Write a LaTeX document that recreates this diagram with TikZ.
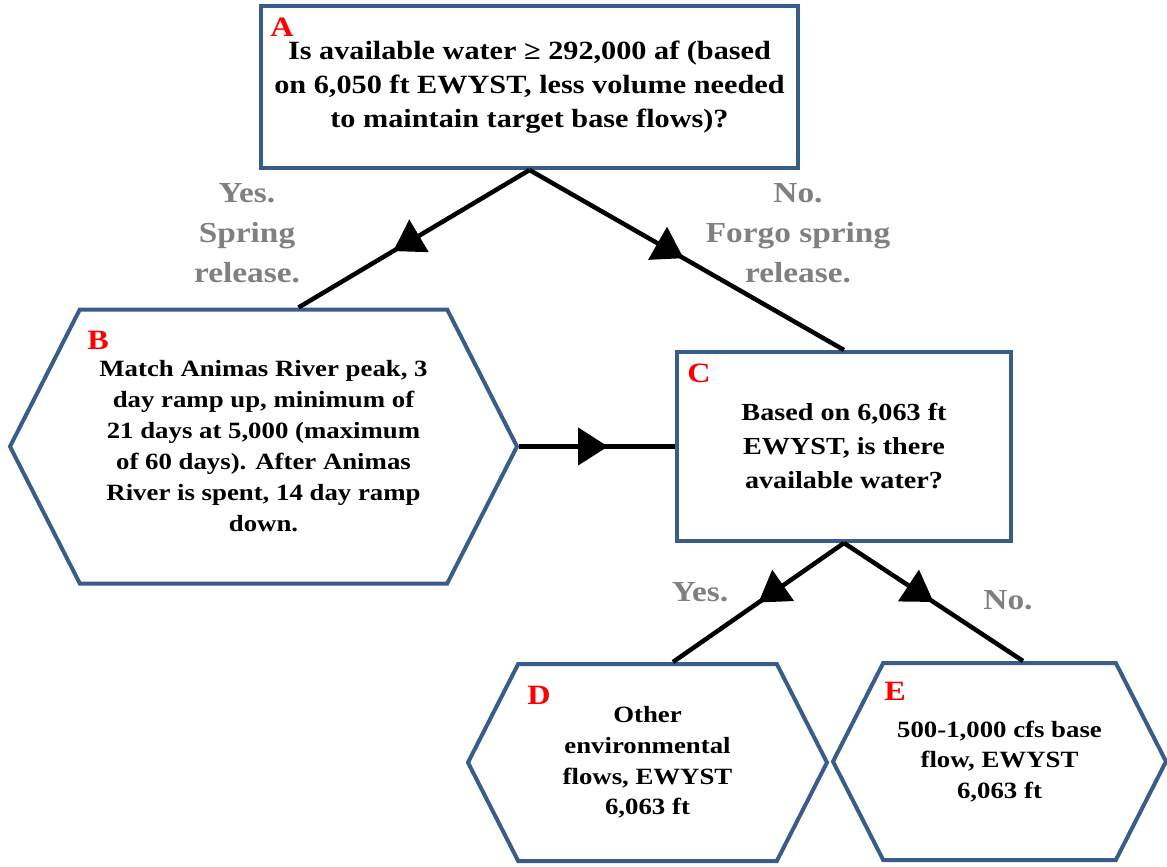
\documentclass[tikz,border=0pt]{standalone}
\usepackage{fontspec}
\setmainfont{Liberation Serif}[FakeStretch=1.15]
\usetikzlibrary{positioning,shapes.symbols,arrows.meta,decorations.markings}
\definecolor{boxBlue}{RGB}{56,93,138}
\definecolor{noteGray}{gray}{0.5}
\definecolor{tagRed}{RGB}{255,0,0}

\begin{document}
\begin{tikzpicture}[
	x=1pt, y=-1pt,
	% -{Triangle[length=30pt]},
	decision/.style={draw=boxBlue, line width=4pt, fill=white, align=center,
		inner sep=0pt, rectangle},
	outcome/.style={decision, signal, signal to=west and east,
		signal pointer angle=126},
	tag/.style={text=tagRed, font=\bfseries\fontsize{28}{30}\selectfont},
	answer/.style={text=noteGray, align=center,
		font=\bfseries\fontsize{29}{40}\selectfont},
	flowline/.style={draw, line width=4.5pt, postaction={decorate},
		decoration={markings,
			mark=at position #1 with {\arrow{Triangle[length=30pt,width=37pt]}}}},
	]
	\useasboundingbox (0,0) rectangle (1167,867);
	\node [decision, minimum width=537pt, minimum height=162pt,
		font=\bfseries\fontsize{26.3}{34}\selectfont] (A) at (529.5,87)
		{Is available water ≥ 292,000 af (based\\on 6,050 ft EWYST, less volume needed\\to maintain target base flows)?};
	\node [outcome, minimum width=507pt, minimum height=274pt,
		font=\bfseries\fontsize{23.3}{31}\selectfont] (B) at (263.5,446.5)
		{Match Animas River peak, 3\\day ramp up, minimum of\\21 days at 5,000 (maximum\\of 60 days). After Animas\\River is spent, 14 day ramp\\down.};
	\node [decision, minimum width=334pt, minimum height=189pt,
		font=\bfseries\fontsize{24.5}{34}\selectfont] (C) at (844,446.5)
		{Based on 6,063 ft\\EWYST, is there\\available water?};
	\node [outcome, minimum width=359pt, minimum height=197pt,
		font=\bfseries\fontsize{23.3}{30.7}\selectfont] (D) at (647.5,762.5)
		{Other\\environmental\\flows, EWYST\\6,063 ft};
	\node [outcome, minimum width=333pt, minimum height=197pt,
		font=\bfseries\fontsize{23.3}{30.5}\selectfont] (E) at (999.5,761.5)
		{500-1,000 cfs base\\flow, EWYST\\6,063 ft};

	\node [tag] (tagA) at (282,27) {A};
	\node [tag] (tagB) at (98,340) {B};
	\node [tag] (tagC) at (699,373) {C};
	\node [tag] (tagD) at (539,695) {D};
	\node [tag] (tagE) at (895,691) {E};

	\draw [flowline=0.59] (A.south) -- ([xshift=35pt]B.north);
	\draw [flowline=0.49] (A.south) -- (C.north);
	\draw [flowline=0.57] (B.east) -- (C.west);
	\draw [flowline=0.5] (C.south) -- ([xshift=25.5pt]D.north);
	\draw [flowline=0.5] (C.south) -- ([xshift=23.5pt]E.north);

	\node [answer] (yesA) at (247,233) {Yes.\\Spring\\release.};
	\node [answer] (noA) at (798,233) {No.\\Forgo spring\\release.};
	\node [answer] (yesC) at (700,592) {Yes.};
	\node [answer] (noC) at (1008,600) {No.};
\end{tikzpicture}
\end{document}
